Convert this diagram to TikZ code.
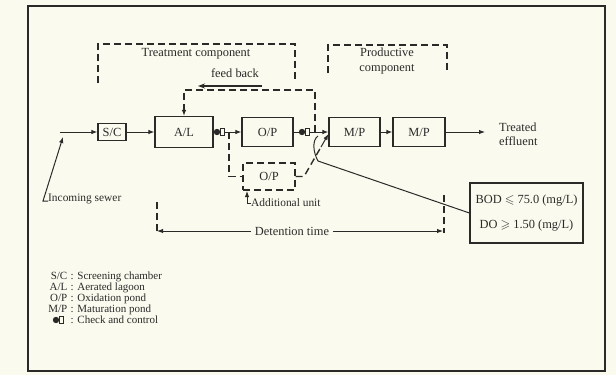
\documentclass[tikz,border=0pt]{standalone}
\usepackage{amssymb}
\usepackage{fontspec}
\setmainfont{Liberation Serif}
\usetikzlibrary{arrows.meta}
\definecolor{ink}{HTML}{2B2A28}
\definecolor{papier}{HTML}{FBFAEF}
\newcommand{\lbl}{\fontsize{12.4}{15}\selectfont}
\newcommand{\klein}{\fontsize{11.4}{14}\selectfont}
\newcommand{\legd}{\fontsize{11}{13}\selectfont}
\tikzset{pfeil/.style={ink,line width=1pt,-{Latex[length=6pt,width=4.5pt]}},
  becken/.style={draw=ink,line width=1.1pt,inner sep=0,font=\lbl,text=ink},
  strichlinie/.style={ink,line width=1.4pt,dash pattern=on 7pt off 4pt},
  zusatz/.style={becken,strichlinie},
  beschr/.style={inner sep=0,text=ink,font=\lbl}}
\newcommand{\kontrolle}[2]{\fill[ink] (#1,#2) circle[radius=3.2];
  \draw[ink,line width=1pt,fill=papier] ({#1+3.4},{#2-3.5}) rectangle ({#1+7},{#2+3.5});}

\begin{document}
\begin{tikzpicture}[x=1pt,y=-1pt]
\useasboundingbox (0,0) rectangle (616,375);
\fill[papier] (0,0) rectangle (616,375);
\draw[ink,line width=1.2pt] (28,6) rectangle (605,371);
% component frames
\draw[strichlinie] (98,83) |- (295,44) -- (295,80);
\node[beschr] (behl) at (196,54) {Treatment component};
\draw[strichlinie] (328,73) |- (447,45) -- (447,73);
\node[beschr,align=center] (prodl) at (387,61) {Productive\\component};
% ponds
\node[becken,minimum width=28pt,minimum height=17pt] (sc) at (112,132) {S/C};
\node[becken,minimum width=58pt,minimum height=31pt] (al) at (184,132) {A/L};
\node[becken,minimum width=51pt,minimum height=29pt] (op) at (267.5,132) {O/P};
\node[becken,minimum width=51pt,minimum height=29pt] (mp1) at (354.5,132) {M/P};
\node[becken,minimum width=52pt,minimum height=29pt] (mp2) at (419,132) {M/P};
\node[zusatz,minimum width=52pt,minimum height=27pt] (opx) at (269,176.5) {O/P};
\node[becken,minimum width=113pt,minimum height=60pt,align=center] (bod)
  at (526.5,213) {BOD $\leqslant$ 75.0 (mg/L)\\[10pt]DO $\geqslant$ 1.50 (mg/L)};
% main flow
\coordinate (ein) at (60,132);
\coordinate (aus) at (485,132);
\draw[pfeil] (ein) -- (sc);
\draw[pfeil] (sc) -- (al);
\draw[pfeil] (al) -- (op);
\draw[pfeil] (op) -- (mp1);
\draw[pfeil] (mp1) -- (mp2);
\draw[pfeil] (mp2) -- (aus);
\node[beschr,anchor=west,align=left,font=\fontsize{12.4}{14}\selectfont] (effl) at (499,134) {Treated\\effluent};
\kontrolle{217}{132}
\kontrolle{302}{132}
% additional unit
\coordinate (abzw) at (229,132);
\coordinate (knick) at (304,176.5);
\coordinate (rueck) at (321,147);
\draw[strichlinie] (abzw) |- (opx.west);
\draw[strichlinie] (opx.east) -- (knick) -- (rueck);
\draw[pfeil] (rueck) -- ([yshift=-2pt]mp1.west);
\node[beschr,anchor=west,font=\klein] (zus) at (251,203) {Additional unit};
\draw[pfeil] (zus.west) -- ++(-4,0) -- ++(0,-12);
% feed back
\coordinate (fbr) at (315,132);
\coordinate (fbo) at (315,90);
\draw[strichlinie,-{Latex[length=6pt,width=4.5pt]}] (fbr) -- (fbo) -| (al.north);
\coordinate (fba) at (262,86);
\coordinate (fbe) at (198,86);
\draw[ink,line width=2pt,-{Stealth[length=7pt,width=5pt]}] (fba) -- (fbe);
\node[beschr] (fbl) at (235,73) {feed back};
% incoming sewer
\coordinate (einl) at (63,137);
\node[beschr,anchor=base west,font=\klein] (sewer) at (48,201) {Incoming sewer};
\draw[pfeil] (sewer.base west) -- ++(-5,0) -- (einl);
% control values
\coordinate (gabel) at (318,161);
\draw[ink,line width=1pt] (bod.west) -- (gabel) .. controls (313,152) and (312,140) .. (318,136);
% detention time
\node[beschr] (det) at (292,231) {Detention time};
\coordinate (dl) at (157,231);
\coordinate (dr) at (443,231);
\draw[strichlinie] (157,202) -- (157,233);
\draw[strichlinie] (444,195) -- (444,233);
\draw[pfeil] ([xshift=-4pt]det.west) -- (dl);
\draw[pfeil] ([xshift=4pt]det.east) -- (dr);
% legend
\foreach \abk/\txt [count=\i from 0] in {{S/C}/Screening chamber,{A/L}/Aerated lagoon,
    {O/P}/Oxidation pond,{M/P}/Maturation pond}{
  \node[beschr,font=\legd,anchor=base east] (abk\i) at (67.5,{279+11.2*\i}) {\abk};
  \node[beschr,font=\legd,anchor=base west] (leg\i) at (70.5,{279+11.2*\i}) {: \txt};
}
\kontrolle{56}{320}
\node[beschr,font=\legd,anchor=base west] (leg4) at (70.5,323.8) {: Check and control};
\end{tikzpicture}
\end{document}
